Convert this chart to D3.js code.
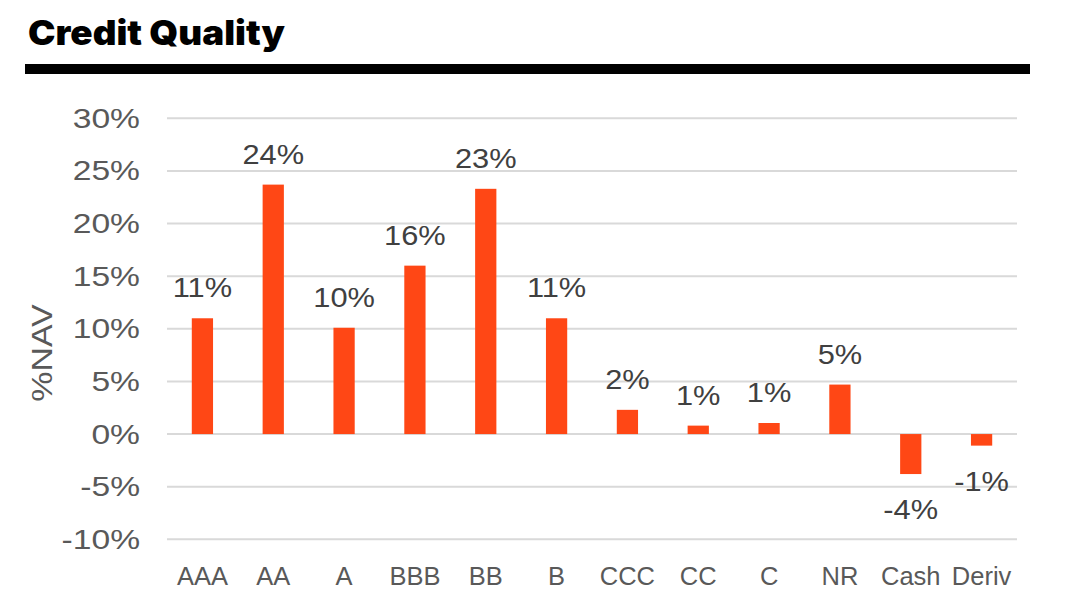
<!DOCTYPE html>
<html>
<head>
<meta charset="utf-8">
<script src="https://cdn.jsdelivr.net/npm/d3@7"></script>
<style>
  html, body { margin: 0; padding: 0; background: #fff; }
  svg { display: block; }
</style>
</head>
<body>
<svg id="chart" width="1084" height="611"></svg>
<script>
const categories = ["AAA", "AA", "A", "BBB", "BB", "B", "CCC", "CC", "C", "NR", "Cash", "Deriv"];
const values = [11.0, 23.7, 10.1, 16.0, 23.3, 11.0, 2.3, 0.8, 1.05, 4.7, -3.8, -1.1];
const valueLabels = ["11%", "24%", "10%", "16%", "23%", "11%", "2%", "1%", "1%", "5%", "-4%", "-1%"];
const yTicks = [30, 25, 20, 15, 10, 5, 0, -5, -10];
const title = "Credit Quality";
const yTitle = "%NAV";

(function() {
const svg = d3.select("#chart");
const mLeft = 167, mRight = 1017, mTop = 118.3, mBottom = 539.3;

const x = d3.scaleBand().domain(categories).range([mLeft, mRight]).paddingInner(0.7).paddingOuter(0.35);
const y = d3.scaleLinear().domain([-10, 30]).range([mBottom, mTop]);

function stretch(sel, f) {
  sel.each(function() {
    const w = this.getComputedTextLength();
    d3.select(this).attr("textLength", w * f).attr("lengthAdjust", "spacingAndGlyphs");
  });
}

// title
svg.append("text").attr("x", 28).attr("y", 45)
  .attr("font-family", "Inter, Lato, 'Liberation Sans', sans-serif")
  .attr("font-weight", 900).attr("font-size", 34).attr("fill", "#000")
  .attr("textLength", 257).attr("lengthAdjust", "spacingAndGlyphs")
  .text(title);
svg.append("rect").attr("x", 25).attr("y", 64).attr("width", 1005).attr("height", 10).attr("fill", "#000");

// gridlines
svg.append("g").selectAll("line").data(yTicks).join("line")
  .attr("x1", mLeft).attr("x2", mRight)
  .attr("y1", d => y(d)).attr("y2", d => y(d))
  .attr("stroke", "#d9d9d9").attr("stroke-width", 2);

// y-axis labels
const yAxis = d3.axisLeft(y).tickValues(yTicks).tickFormat(d => d + "%").tickSize(0).tickPadding(0);
const ya = svg.append("g").attr("transform", `translate(140,0)`).call(yAxis);
ya.select(".domain").remove();
ya.selectAll("text")
  .attr("font-family", "'Liberation Sans', Arial, sans-serif")
  .attr("font-size", 28).attr("fill", "#595959").attr("dy", 9).attr("x", 0);
stretch(ya.selectAll("text"), 1.2);

// y title
svg.append("text").attr("transform", "translate(52,353) rotate(-90)")
  .attr("text-anchor", "middle")
  .attr("font-family", "'Liberation Sans', Arial, sans-serif")
  .attr("font-size", 30).attr("fill", "#595959")
  .text(yTitle)
  .call(stretch, 1.13);

// bars
svg.append("g").selectAll("rect").data(values).join("rect")
  .attr("x", (d, i) => x(categories[i]))
  .attr("width", x.bandwidth())
  .attr("y", d => y(Math.max(0, d)))
  .attr("height", d => Math.abs(y(d) - y(0)))
  .attr("fill", "#ff4715");

// data labels
const dl = svg.append("g").selectAll("text").data(values).join("text")
  .attr("x", (d, i) => x(categories[i]) + x.bandwidth() / 2)
  .attr("y", d => d >= 0 ? y(d) - 21 : y(d) + 45)
  .attr("text-anchor", "middle")
  .attr("font-family", "'Liberation Sans', Arial, sans-serif")
  .attr("font-size", 28).attr("fill", "#404040")
  .text((d, i) => valueLabels[i]);
stretch(dl, 1.1);

// x-axis labels
const xAxis = d3.axisBottom(x).tickSize(0).tickPadding(0);
const xa = svg.append("g").attr("transform", `translate(0,585)`).call(xAxis);
xa.select(".domain").remove();
xa.selectAll("text")
  .attr("font-family", "'Liberation Sans', Arial, sans-serif")
  .attr("font-size", 25.5).attr("fill", "#595959").attr("dy", 0).attr("y", 0);
})();
</script>
</body>
</html>
